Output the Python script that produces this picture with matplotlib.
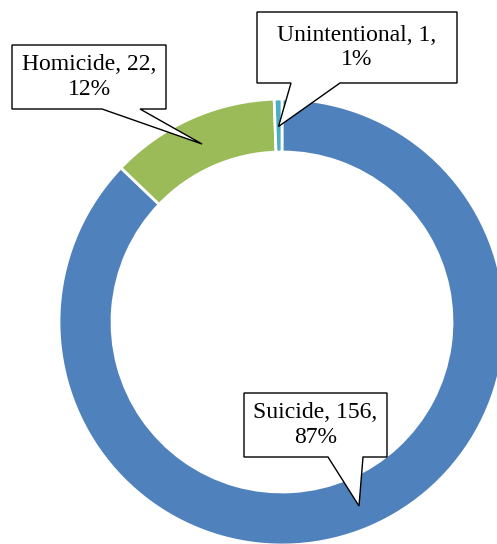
import matplotlib
matplotlib.use("Agg")
import matplotlib.pyplot as plt
from matplotlib.patches import Polygon

categories = ["Suicide", "Homicide", "Unintentional"]
values = [156, 22, 1]
colors = ["#4F81BD", "#9BBB59", "#4BACC6"]

W, H = 497, 544
fig = plt.figure(figsize=(W / 100, H / 100), dpi=100)
ax = fig.add_axes([0, 0, 1, 1])

cx, cy = 282, H - 322
R = 223
ax.pie(values, colors=colors, startangle=90, counterclock=False,
       center=(cx, cy), radius=R, frame=False,
       wedgeprops=dict(width=53, edgecolor="white", linewidth=2))
ax.set_xlim(0, W)
ax.set_ylim(0, H)
ax.set_aspect("equal")
ax.axis("off")

total = sum(values)
labels = [f"{c}, {v},\n{round(100 * v / total)}%" for c, v in zip(categories, values)]

# callout boxes in pixel coordinates (x0, y0, x1, y1), pointer base xs, pointer tip
boxes = [
    ((244, 393, 387, 457), (328, 363), (359, 506)),
    ((12, 45, 166, 109), (102, 140), (202, 144)),
    ((257, 12, 457, 83), (291, 340), (278.5, 126.5)),
]

for lab, (box, base, tip) in zip(labels, boxes):
    x0, y0, x1, y1 = box
    b0, b1 = base
    tx, ty = tip
    pts = [(x0, y0), (x1, y0), (x1, y1), (b1, y1), (tx, ty), (b0, y1), (x0, y1)]
    pts = [(x, H - y) for x, y in pts]
    ax.add_patch(Polygon(pts, closed=True, facecolor="white", edgecolor="black",
                         linewidth=1.0, zorder=5))
    ax.text((x0 + x1) / 2, H - (y0 + y1) / 2, lab, ha="center", va="center",
            fontsize=17, family="Liberation Serif", linespacing=1.22,
            color="black", zorder=6)

fig.savefig("out.png", dpi=100)
